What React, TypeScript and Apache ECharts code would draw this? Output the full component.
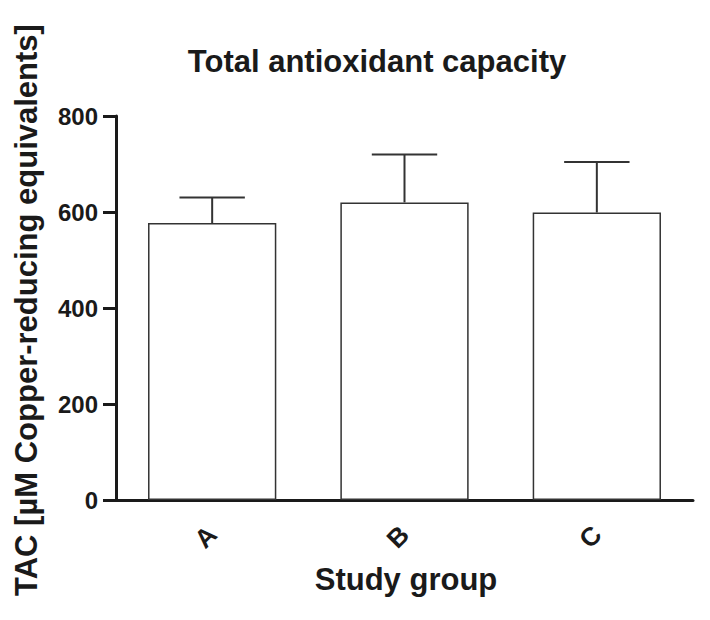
import React, { useEffect, useRef } from "react";
import * as echarts from "echarts";

const categories = ["A", "B", "C"];
const meanValues = [577, 620, 599];
const upperValues = [630, 720, 704];
const yTicks = [0, 200, 400, 600, 800];

const FONT = '"Liberation Sans", Arial, Helvetica, sans-serif';
const INK = "#1a1a1a";

export default function App() {
  const ref = useRef<HTMLDivElement>(null);
  useEffect(() => {
    document.body.style.margin = "0";
    const chart = echarts.init(ref.current!, null, { renderer: "svg" });
    const errData = categories.map((_, i) => [i, meanValues[i], upperValues[i]]);
    chart.setOption({
      animation: false,
      backgroundColor: "#ffffff",
      textStyle: { fontFamily: FONT },
      grid: { left: 116, right: 17, top: 116, bottom: 120, containLabel: false },
      graphic: [
        {
          type: "text",
          x: 377,
          y: 61,
          style: {
            text: "Total antioxidant capacity",
            font: `bold 31px ${FONT}`,
            fill: INK,
            textAlign: "center",
            textVerticalAlign: "middle",
          },
        },
        {
          type: "text",
          x: 406,
          y: 579,
          style: {
            text: "Study group",
            font: `bold 31px ${FONT}`,
            fill: INK,
            textAlign: "center",
            textVerticalAlign: "middle",
          },
        },
        {
          type: "text",
          x: 26,
          y: 310,
          rotation: Math.PI / 2,
          style: {
            text: "TAC [µM Copper-reducing equivalents]",
            font: `bold 31px ${FONT}`,
            fill: INK,
            textAlign: "center",
            textVerticalAlign: "middle",
          },
        },
      ],
      xAxis: {
        type: "category",
        data: categories,
        axisLine: { lineStyle: { color: INK, width: 3 } },
        axisTick: { alignWithLabel: true, length: 14, lineStyle: { color: INK, width: 3 } },
        axisLabel: {
          rotate: 45,
          margin: 30,
          fontSize: 26,
          fontWeight: "bold",
          color: INK,
          fontFamily: FONT,
        },
        splitLine: { show: false },
      },
      yAxis: {
        type: "value",
        min: yTicks[0],
        max: yTicks[yTicks.length - 1],
        interval: yTicks[1] - yTicks[0],
        axisLine: { show: true, lineStyle: { color: INK, width: 3 } },
        axisTick: { show: true, length: 13, lineStyle: { color: INK, width: 3 } },
        axisLabel: {
          margin: 18,
          fontSize: 24,
          fontWeight: "bold",
          color: INK,
          fontFamily: FONT,
        },
        splitLine: { show: false },
      },
      series: [
        {
          type: "bar",
          data: meanValues,
          barCategoryGap: "33.3%",
          itemStyle: { color: "#ffffff", borderColor: "#333333", borderWidth: 1.5 },
          z: 2,
        },
        {
          type: "custom",
          data: errData,
          z: 3,
          renderItem: (params: any, api: any) => {
            const idx = api.value(0);
            const top = api.coord([idx, api.value(2)]);
            const base = api.coord([idx, api.value(1)]);
            const half = api.size([1, 0])[0] * 0.17;
            const style = { stroke: "#333333", lineWidth: 2 };
            return {
              type: "group",
              children: [
                { type: "line", shape: { x1: top[0], y1: base[1], x2: top[0], y2: top[1] }, style },
                { type: "line", shape: { x1: top[0] - half, y1: top[1], x2: top[0] + half, y2: top[1] }, style },
              ],
            };
          },
        },
      ],
    });
    return () => chart.dispose();
  }, []);
  return <div ref={ref} style={{ width: 710, height: 620 }} />;
}
